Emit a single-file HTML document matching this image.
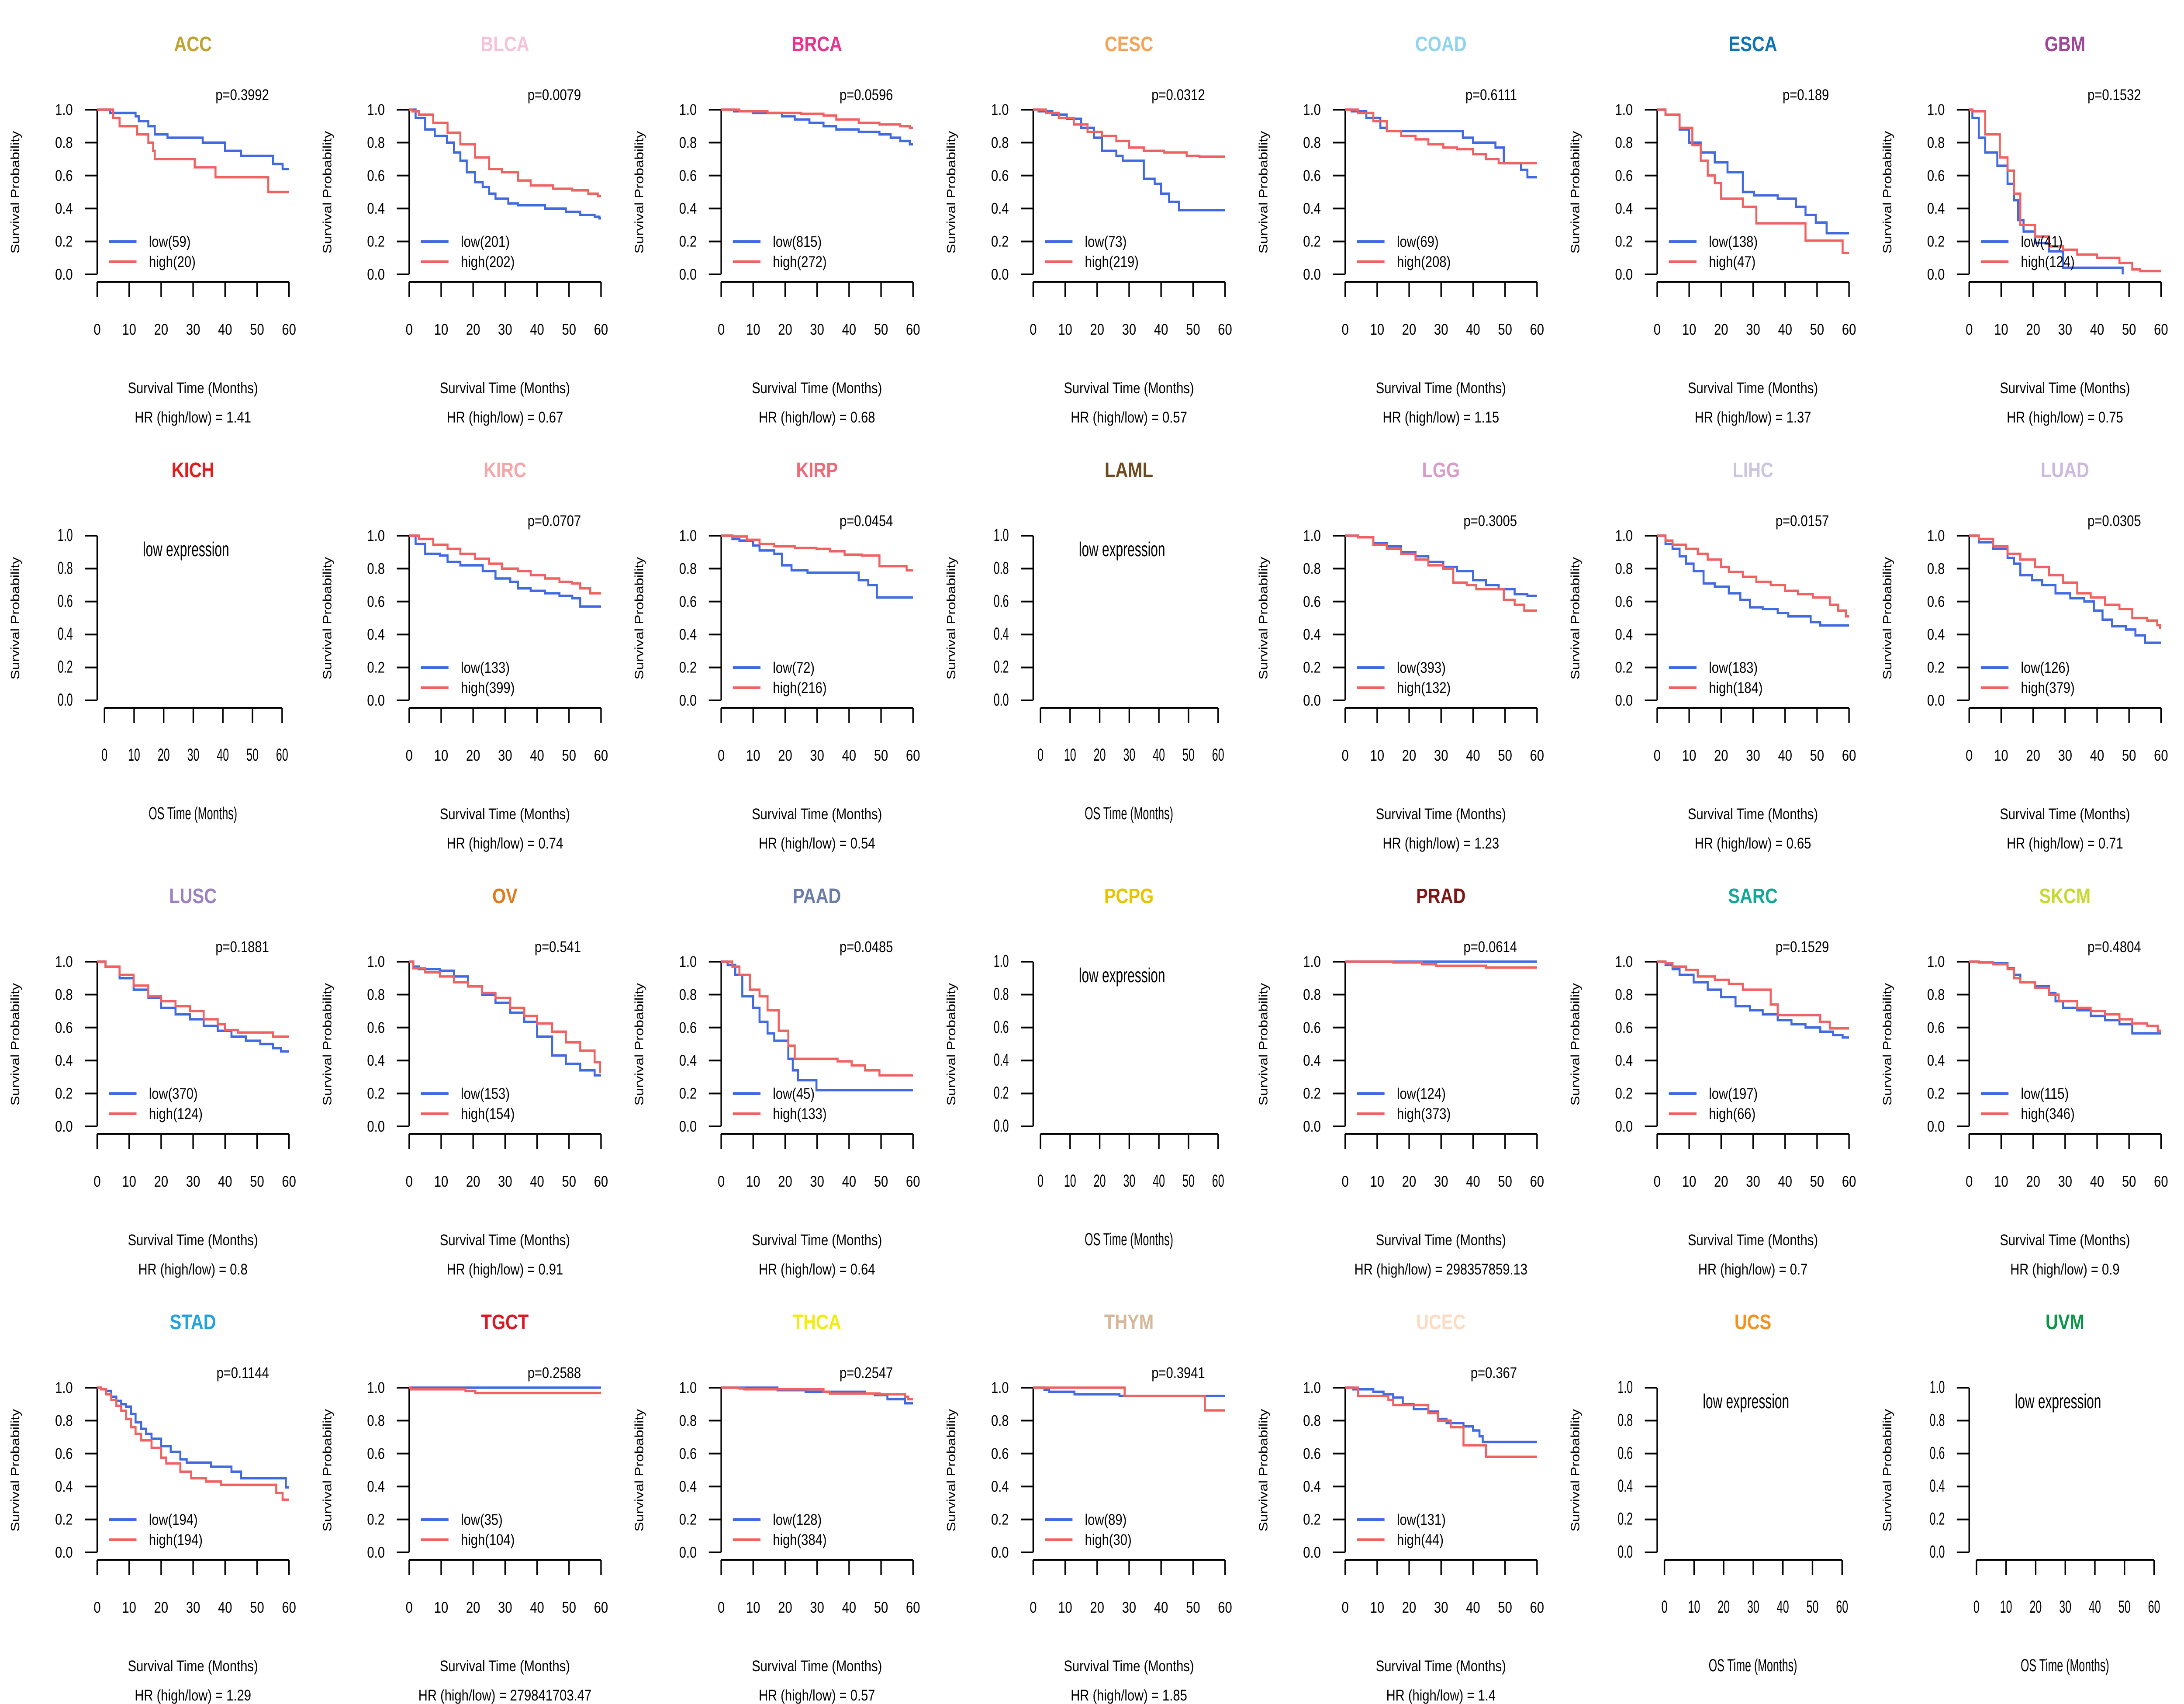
<!DOCTYPE html>
<html><head><meta charset="utf-8"><title>Pan-cancer KM curves</title>
<style>
html,body{margin:0;padding:0;background:#fff;overflow:hidden;width:100%;height:100%;}
svg{display:block;font-family:"Liberation Sans",Arial,sans-serif;width:100vw;height:100vh;}
</style></head>
<body>
<svg id="chart" xmlns="http://www.w3.org/2000/svg" viewBox="0 0 6000 3900" preserveAspectRatio="none"></svg>
<script>
// ---- data: cancer types, title colours, stats ----
const cancers = ["ACC","BLCA","BRCA","CESC","COAD","ESCA","GBM","KICH","KIRC","KIRP","LAML","LGG","LIHC","LUAD","LUSC","OV","PAAD","PCPG","PRAD","SARC","SKCM","STAD","TGCT","THCA","THYM","UCEC","UCS","UVM"];
const titleColors = ["#BFA330","#F5C2DA","#E8338C","#F2A55A","#8FD3EE","#0E74B5","#A0469A","#E41A1C","#F4A6A8","#EE6A78","#6E4A1E","#D89CC8","#CBC5E0","#CDB8DE","#9B80C2","#E07B1A","#6A7BA8","#E8C300","#7E1616","#12A898","#C5D92E","#22A3E0","#D91A22","#F0EC10","#D6B79A","#FDDBC3","#F5921F","#0B9548"];
const pValues = ["0.3992","0.0079","0.0596","0.0312","0.6111","0.189","0.1532",null,"0.0707","0.0454",null,"0.3005","0.0157","0.0305","0.1881","0.541","0.0485",null,"0.0614","0.1529","0.4804","0.1144","0.2588","0.2547","0.3941","0.367",null,null];
const hrValues = ["1.41","0.67","0.68","0.57","1.15","1.37","0.75",null,"0.74","0.54",null,"1.23","0.65","0.71","0.8","0.91","0.64",null,"298357859.13","0.7","0.9","1.29","279841703.47","0.57","1.85","1.4",null,null];
const lowN = [59,201,815,73,69,138,41,null,133,72,null,393,183,126,370,153,45,null,124,197,115,194,35,128,89,131,null,null];
const highN = [20,202,272,219,208,47,124,null,399,216,null,132,184,379,124,154,133,null,373,66,346,194,104,384,30,44,null,null];
const yTicks = [0,0.2,0.4,0.6,0.8,1.0];
const xTicks = [0,10,20,30,40,50,60];

// ---- survival curves: [time (months), survival] step points ----
const ACC_low=[[4,0.98],[12,0.96],[13,0.93],[16,0.90],[18,0.85],[22,0.83],[33,0.80],[40,0.75],[45,0.72],[55,0.67],[58,0.64]];
const ACC_high=[[5,0.95],[7,0.90],[12.5,0.85],[16,0.80],[17.5,0.75],[18,0.70],[30.5,0.65],[37,0.59],[53.5,0.50]];
const BLCA_low=[[2,0.95],[5,0.88],[8,0.84],[11.8,0.80],[14,0.74],[16,0.69],[18,0.62],[20.6,0.56],[23,0.53],[25,0.49],[27,0.46],[31,0.43],[34,0.42],[42.5,0.40],[49,0.38],[53.5,0.36],[58,0.35],[59.5,0.34]];
const BLCA_high=[[1,0.99],[3,0.97],[7.5,0.92],[12,0.86],[16,0.79],[20.6,0.71],[25,0.64],[29,0.62],[34,0.57],[38,0.54],[45,0.52],[51,0.51],[56,0.49],[59,0.475]];
const BRCA_low=[[4,0.99],[10,0.98],[19,0.96],[23,0.94],[27.6,0.92],[32,0.90],[36,0.88],[43,0.865],[49.5,0.85],[53,0.83],[56,0.81],[59,0.79]];
const BRCA_high=[[5.7,0.99],[14.5,0.98],[25,0.975],[32,0.965],[36,0.94],[43,0.92],[49.5,0.91],[56,0.90],[59,0.89]];
const CESC_low=[[1.7,0.99],[6,0.97],[10.5,0.945],[15,0.89],[19,0.83],[21.5,0.75],[26,0.72],[28,0.69],[34.6,0.58],[38,0.55],[40,0.49],[42.5,0.44],[45.6,0.39]];
const CESC_high=[[4,0.98],[8,0.95],[12.7,0.91],[17,0.865],[21.5,0.84],[26,0.81],[30,0.77],[34.6,0.75],[41,0.74],[48,0.72],[52,0.715]];
const COAD_low=[[2,0.99],[6.6,0.95],[11,0.89],[13,0.87],[36.8,0.83],[40,0.80],[47,0.77],[49.6,0.675],[55,0.635],[57,0.59]];
const COAD_high=[[4,0.98],[8.8,0.93],[13,0.87],[17.5,0.84],[22,0.82],[26,0.79],[30.7,0.77],[35,0.76],[40,0.73],[44,0.70],[48,0.675]];
const ESCA_low=[[2.6,0.97],[7,0.88],[10,0.80],[13.6,0.74],[18,0.68],[22,0.62],[26.8,0.50],[30.3,0.48],[37.7,0.46],[43.4,0.41],[46.4,0.36],[49.6,0.315],[53,0.25]];
const ESCA_high=[[2.6,0.97],[7,0.89],[11,0.785],[13.6,0.69],[15.8,0.60],[18,0.555],[20,0.46],[26.8,0.41],[31,0.31],[46.4,0.205],[58,0.13]];
const GBM_low=[[1,0.95],[3,0.83],[5,0.74],[8.8,0.66],[12,0.55],[14,0.45],[15.3,0.33],[17,0.26],[20.6,0.19],[25,0.14],[29.4,0.04],[48,0.0]];
const GBM_high=[[1,0.99],[5,0.85],[9.6,0.71],[12,0.63],[14,0.49],[16,0.30],[20.6,0.23],[25,0.17],[29.4,0.15],[33.8,0.12],[40,0.10],[47,0.07],[51,0.03],[53.5,0.02]];
const KIRC_low=[[2,0.95],[5,0.89],[9.6,0.88],[12,0.84],[16,0.82],[23,0.785],[27,0.74],[31.6,0.72],[34,0.68],[38,0.665],[42.5,0.65],[47,0.635],[51,0.62],[53.5,0.57]];
const KIRC_high=[[3,0.98],[7.5,0.945],[12,0.92],[16,0.89],[20.6,0.86],[25,0.83],[29,0.80],[34,0.785],[38,0.76],[42.5,0.74],[47,0.72],[51,0.71],[53.5,0.68],[56.6,0.65]];
const KIRP_low=[[3.5,0.98],[5.7,0.97],[10,0.94],[12,0.91],[16.6,0.89],[19,0.82],[22,0.79],[27,0.775],[43,0.73],[46,0.70],[48.7,0.625]];
const KIRP_high=[[3.5,0.995],[8,0.975],[12,0.95],[16.6,0.935],[23,0.925],[29.8,0.92],[34,0.905],[38.6,0.885],[44,0.88],[49.5,0.815],[58,0.79]];
const LGG_low=[[4,0.99],[8.8,0.955],[13,0.935],[17.5,0.90],[22,0.875],[26,0.84],[30.7,0.81],[35,0.785],[40,0.73],[44,0.70],[48,0.675],[53,0.645],[57,0.635]];
const LGG_high=[[4,0.99],[8.8,0.945],[13,0.92],[17.5,0.89],[22,0.855],[26,0.82],[30.7,0.80],[33.8,0.715],[38,0.70],[41,0.675],[49.6,0.61],[53,0.58],[56,0.545]];
const LIHC_low=[[2.6,0.95],[4.8,0.92],[7,0.875],[9,0.83],[11.4,0.785],[14.5,0.71],[18,0.69],[22.4,0.65],[26,0.61],[29,0.565],[33,0.555],[37.7,0.53],[41,0.51],[48,0.475],[51,0.455]];
const LIHC_high=[[2.6,0.97],[4.8,0.945],[9,0.92],[12.7,0.89],[15.8,0.855],[20,0.81],[22.4,0.78],[26.8,0.75],[31,0.72],[35.5,0.70],[40,0.665],[44,0.645],[48.7,0.625],[54,0.58],[56.6,0.545],[59,0.51]];
const LUAD_low=[[3,0.96],[7.5,0.92],[12,0.865],[14,0.83],[16,0.76],[19.7,0.73],[22.8,0.70],[27,0.65],[31.6,0.62],[36,0.60],[39,0.545],[41.7,0.49],[44.7,0.45],[49,0.43],[52,0.395],[55,0.35]];
const LUAD_high=[[3,0.98],[7.5,0.935],[12,0.89],[16,0.855],[20.6,0.81],[25,0.76],[29.4,0.715],[33.8,0.65],[38,0.625],[42.5,0.58],[47,0.555],[51,0.50],[55.7,0.485],[58.8,0.457],[59.7,0.44]];
const LUSC_low=[[2.6,0.97],[7,0.90],[11.4,0.83],[16,0.78],[20,0.72],[24.5,0.68],[29,0.65],[33.3,0.61],[37.7,0.58],[42,0.545],[46.5,0.52],[51,0.50],[55,0.475],[57.5,0.455]];
const LUSC_high=[[2.6,0.97],[7,0.92],[11.4,0.855],[16,0.79],[20,0.76],[24.5,0.73],[29,0.70],[33.3,0.65],[37.7,0.62],[40,0.585],[44,0.57],[55,0.545]];
const OV_low=[[1.3,0.97],[3,0.955],[9.6,0.945],[14,0.91],[18.4,0.85],[22.8,0.80],[27,0.75],[31.6,0.69],[36,0.635],[40,0.545],[44.7,0.43],[49,0.38],[53.5,0.34],[58,0.31]];
const OV_high=[[1.3,0.96],[5,0.935],[9.6,0.91],[14,0.875],[18.4,0.85],[22.8,0.81],[27,0.78],[31.6,0.72],[36,0.67],[40,0.625],[44.7,0.575],[49,0.51],[53.5,0.46],[58,0.39],[59.7,0.33]];
const PAAD_low=[[2,0.98],[4.4,0.92],[6.6,0.79],[10,0.72],[12,0.635],[14.5,0.565],[16.6,0.52],[21,0.41],[22.4,0.34],[24,0.28],[29.8,0.22]];
const PAAD_high=[[3.5,0.97],[5.7,0.92],[9,0.83],[12,0.79],[14.5,0.705],[18,0.58],[21,0.49],[23,0.41],[36.4,0.395],[40.8,0.37],[45,0.34],[49.5,0.31]];
const PRAD_low=[];
const PRAD_high=[[15,0.995],[24,0.985],[28.5,0.975],[44,0.965]];
const SARC_low=[[2.6,0.98],[4.8,0.955],[7,0.92],[11.4,0.875],[15.8,0.83],[20,0.785],[24.5,0.73],[29,0.705],[33,0.68],[37.7,0.645],[42,0.62],[46.4,0.60],[51,0.575],[55,0.555],[58,0.54]];
const SARC_high=[[2.6,0.99],[4.8,0.97],[9,0.95],[12.7,0.91],[18,0.89],[22.4,0.865],[26.8,0.83],[35.5,0.74],[37.7,0.675],[51,0.635],[54,0.595]];
const SKCM_low=[[3,0.995],[7.5,0.99],[12,0.96],[14,0.92],[16,0.875],[20.6,0.85],[25,0.81],[27,0.76],[29.4,0.72],[33.8,0.705],[38,0.67],[42.5,0.645],[47,0.62],[51,0.565]];
const SKCM_high=[[3,0.995],[7.5,0.985],[12,0.955],[14,0.90],[16,0.875],[20.6,0.84],[25,0.80],[28,0.76],[33.8,0.72],[38,0.70],[42.5,0.68],[47,0.65],[51,0.625],[55.7,0.61],[59,0.58]];
const STAD_low=[[1.25,0.99],[2.8,0.98],[4.4,0.945],[6,0.92],[7.5,0.90],[9,0.885],[10.6,0.84],[12,0.79],[13.75,0.75],[15.3,0.72],[17,0.69],[20,0.645],[23,0.61],[26,0.565],[28,0.545],[35.6,0.52],[42,0.49],[45,0.45],[59,0.395]];
const STAD_high=[[1.25,0.99],[2.8,0.96],[4.4,0.925],[6,0.89],[7.5,0.86],[9,0.81],[10.6,0.76],[12,0.72],[13.75,0.68],[17,0.635],[20,0.575],[21.6,0.54],[26,0.49],[29.4,0.45],[34,0.43],[38.75,0.41],[56,0.36],[58,0.32]];
const TGCT_low=[];
const TGCT_high=[[0.5,0.99],[17.6,0.98],[20.7,0.967]];
const THCA_low=[[17.6,0.985],[26.4,0.975],[45,0.965],[48,0.955],[52,0.93],[57.5,0.905]];
const THCA_high=[[5.7,0.995],[7.2,0.99],[32,0.975],[34,0.965],[49.6,0.96],[57.5,0.945],[58.5,0.93]];
const THYM_low=[[3.5,0.988],[5,0.975],[12.9,0.96],[27,0.95]];
const THYM_high=[[28.6,0.95],[53.7,0.862]];
const UCEC_low=[[2.5,0.99],[8.8,0.975],[12,0.96],[15,0.94],[18,0.90],[21.4,0.87],[26,0.855],[29,0.81],[31.7,0.785],[37,0.765],[40,0.74],[42,0.705],[43,0.67]];
const UCEC_high=[[4,0.95],[13.5,0.925],[15,0.895],[26,0.845],[29,0.80],[33,0.76],[37,0.65],[44,0.58]];

const curves = {ACC:[ACC_low,ACC_high],BLCA:[BLCA_low,BLCA_high],BRCA:[BRCA_low,BRCA_high],CESC:[CESC_low,CESC_high],COAD:[COAD_low,COAD_high],ESCA:[ESCA_low,ESCA_high],GBM:[GBM_low,GBM_high],KIRC:[KIRC_low,KIRC_high],KIRP:[KIRP_low,KIRP_high],LGG:[LGG_low,LGG_high],LIHC:[LIHC_low,LIHC_high],LUAD:[LUAD_low,LUAD_high],LUSC:[LUSC_low,LUSC_high],OV:[OV_low,OV_high],PAAD:[PAAD_low,PAAD_high],PRAD:[PRAD_low,PRAD_high],SARC:[SARC_low,SARC_high],SKCM:[SKCM_low,SKCM_high],STAD:[STAD_low,STAD_high],TGCT:[TGCT_low,TGCT_high],THCA:[THCA_low,THCA_high],THYM:[THYM_low,THYM_high],UCEC:[UCEC_low,UCEC_high]};
const endTimes = {GBM:[48,60]};

const NS="http://www.w3.org/2000/svg";
const svg=document.getElementById('chart');
const BLUE="#4169E1", RED="#F06262";
function mk(tag,attrs,parent){const e=document.createElementNS(NS,tag);for(const k in attrs)e.setAttribute(k,attrs[k]);parent.appendChild(e);return e;}

cancers.forEach((name,i)=>{
  const col=i%7,row=Math.floor(i/7);
  const ox=col*6000/7, oy=row*975;
  const g=mk('g',{transform:`translate(${ox.toFixed(2)},${oy})`},svg);
  
  
  const low = pValues[i]===null;
  const X0=low?287:267, X1=low?775:794, Y0=628, Y1=251;
  const xs=t=>X0+(t/60)*(X1-X0);
  const ys=s=>Y0-s*(Y0-Y1);
  const fs = low ? 40 : 35;
  // title
  const tt=mk('text',{x:530,y:117,'text-anchor':'middle','font-size':48,'font-weight':'bold',fill:titleColors[i]},g);
  tt.textContent=name;
  
  
  // y axis
  const ya=mk('line',{x1:267,y1:Y1,x2:267,y2:Y0,stroke:'#000','stroke-width':4},g);
  
  
  yTicks.forEach(v=>{
    mk('line',{x1:233,y1:ys(v),x2:267,y2:ys(v),stroke:'#000','stroke-width':4},g);
    const lt=mk('text',{x:200,y:ys(v)+12,'text-anchor':'end','font-size':fs,fill:'#000',transform:low?`translate(200,0) scale(0.75,1) translate(-200,0)`:''},g);
    lt.textContent=v.toFixed(1);
    
    
  });
  const yt=mk('text',{x:0,y:0,'text-anchor':'middle','font-size':33,fill:'#000',transform:`translate(53,440) rotate(-90)`},g);
  yt.textContent='Survival Probability';
  
  
  // x axis
  const xa=mk('line',{x1:X0,y1:645,x2:X1,y2:645,stroke:'#000','stroke-width':4},g);
  
  
  xTicks.forEach(v=>{
    mk('line',{x1:xs(v),y1:645,x2:xs(v),y2:680,stroke:'#000','stroke-width':4},g);
    const lt=mk('text',{x:xs(v),y:766,'text-anchor':'middle','font-size':fs,fill:'#000',transform:low?`translate(${xs(v)},0) scale(0.75,1) translate(${-xs(v)},0)`:''},g);
    lt.textContent=v;
    
    
  });
  const xt=mk('text',{x:530,y:900,'text-anchor':'middle','font-size':fs,fill:'#000',transform:low?'translate(530,0) scale(0.75,1) translate(-530,0)':''},g);
  xt.textContent=low?'OS Time (Months)':'Survival Time (Months)';
  
  
  if(low){
    const le=mk('text',{x:511,y:298,'text-anchor':'middle','font-size':46,fill:'#000',transform:'translate(511,0) scale(0.78,1) translate(-511,0)'},g);
    le.textContent='low expression';
    
    
    return;
  }
  // curves
  const pair=curves[name]; const ends=endTimes[name]||[60,60];
  [[pair[0],BLUE,'low',ends[0]],[pair[1],RED,'high',ends[1]]].forEach(([pts,color,grp,end])=>{
    let d=`M${xs(0)},${ys(1)}`;
    pts.forEach(([t,s])=>{d+=` H${xs(t).toFixed(1)} V${ys(s).toFixed(1)}`;});
    d+=` H${xs(end).toFixed(1)}`;
    const p=mk('path',{d:d,fill:'none',stroke:color,'stroke-width':5.5},g);
    
    
  });
  // p-value
  const pt=mk('text',{x:739,y:229,'text-anchor':'end','font-size':35,fill:'#000'},g);
  pt.textContent='p='+pValues[i];
  
  
  // legend
  [[553,BLUE,'low('+lowN[i]+')','legend-low'],[599,RED,'high('+highN[i]+')','legend-high']].forEach(([y,c,label,nm])=>{
    const lg=mk('g',{},g);
    
    
    mk('line',{x1:299,y1:y,x2:375,y2:y,stroke:c,'stroke-width':6},lg);
    const t=mk('text',{x:409,y:y+12,'font-size':35,fill:'#000'},lg);
    t.textContent=label;
  });
  // HR
  const hr=mk('text',{x:530,y:967,'text-anchor':'middle','font-size':35,fill:'#000'},g);
  hr.textContent='HR (high/low) =  '+hrValues[i];
  
  
});
</script>
</body></html>
